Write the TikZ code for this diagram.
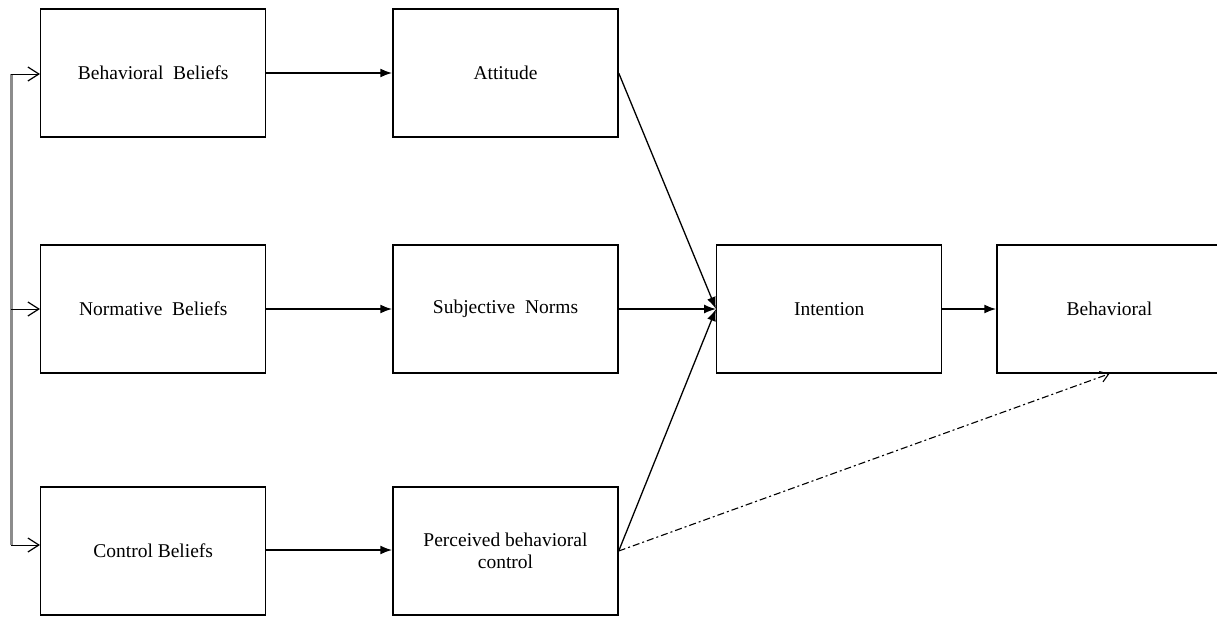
\documentclass[tikz,border=0pt]{standalone}
\usepackage{fontspec}
\setmainfont{Liberation Serif}
\usetikzlibrary{arrows.meta}
\begin{document}
\begin{tikzpicture}[x=1pt,y=-1pt,
  box/.style={draw, line width=1.4pt, minimum width=225pt, minimum height=128pt,
    inner sep=0pt, align=center, font=\fontsize{19.5}{22}\selectfont},
  feed/.style={line width=1pt, -{Straight Barb[length=11pt,width=14pt,line width=1.2pt]}},
  spine/.style={line width=3pt, draw=black!45},
  flow/.style={line width=2pt, -{Latex[length=12pt,width=9pt]}},
  link/.style={line width=1.3pt, -{Latex[length=12pt,width=9pt]}},
  direct/.style={line width=1.1pt, dash pattern=on 7pt off 3pt on 2pt off 3pt,
    -{Straight Barb[length=8pt,width=11pt,line width=1.1pt]}}]
\useasboundingbox (0,0) rectangle (1217,616);

% belief boxes
\node[box] (bb)  at (153.2,73)  {Behavioral\ \ Beliefs};
\node[box] (nb)  at (153.2,309) {Normative\ \ Beliefs};
\node[box] (cb)  at (153.2,551) {Control Beliefs};

% determinants of intention
\node[box] (att) at (505.5,73)  {Attitude};
\node[box] (sn)  at (505.5,309) {Subjective\ \ Norms};
\node[box] (pbc) at (505.5,551) {Perceived behavioral\\control};

% intention and behaviour
\node[box] (int) at (829.2,309)  {Intention};
\node[box] (beh) at (1109.5,309) {Behavioral};

% left feeder line
\coordinate (t1) at (11,74);
\coordinate (t2) at (11,309);
\coordinate (t3) at (11,545);
\draw[spine] (t1) -- (t3);
\draw[feed] (t1) -- (t1 -| bb.west);
\draw[feed] (t2) -- (t2 -| nb.west);
\draw[feed] (t3) -- (t3 -| cb.west);

% beliefs to determinants
\draw[flow] (bb) -- (att);
\draw[flow] (nb) -- (sn);
\draw[flow] (cb.east) ++(0,-1) coordinate (cbo) -- (cbo -| pbc.west);

% determinants to intention
\draw[link] (att.east) -- (int.west);
\draw[link] (sn.east) -- (int.west);
\draw[link] (pbc.east) -- (int.west);

% intention to behaviour
\draw[flow] (int) -- (beh);

% direct path from perceived control
\draw[direct] (pbc.east) -- (beh.south);
\end{tikzpicture}
\end{document}
